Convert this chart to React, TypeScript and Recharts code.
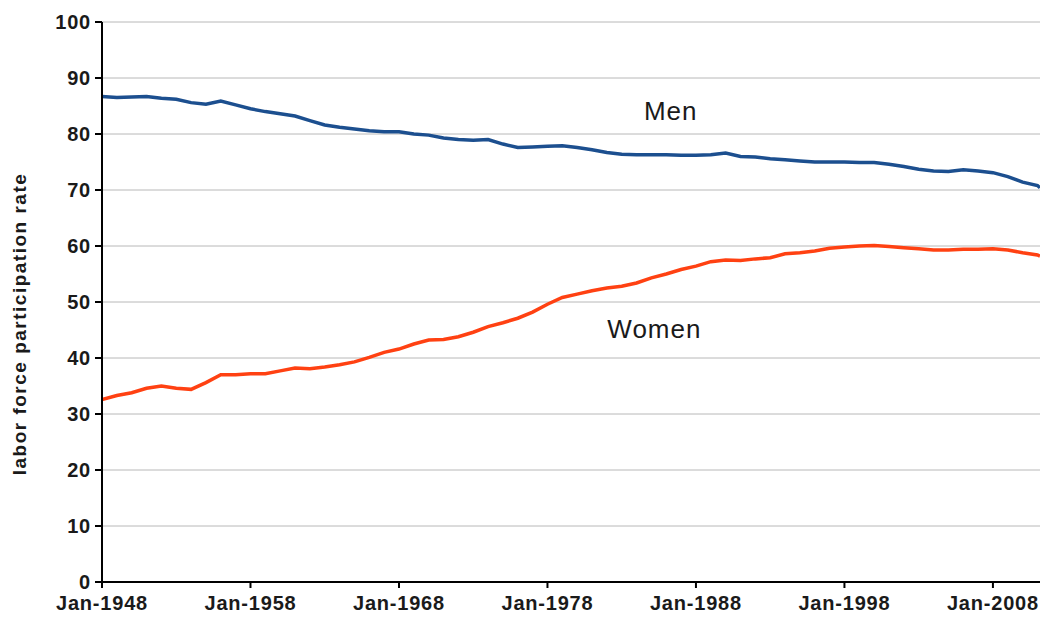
import { CartesianGrid, Line, LineChart, ReferenceDot, XAxis, YAxis } from 'recharts'

// Jan of each year, plus the last observation (early 2011)
const YEARS = [
  1948, 1949, 1950, 1951, 1952, 1953, 1954, 1955, 1956, 1957,
  1958, 1959, 1960, 1961, 1962, 1963, 1964, 1965, 1966, 1967,
  1968, 1969, 1970, 1971, 1972, 1973, 1974, 1975, 1976, 1977,
  1978, 1979, 1980, 1981, 1982, 1983, 1984, 1985, 1986, 1987,
  1988, 1989, 1990, 1991, 1992, 1993, 1994, 1995, 1996, 1997,
  1998, 1999, 2000, 2001, 2002, 2003, 2004, 2005, 2006, 2007,
  2008, 2009, 2010, 2011, 2011.17,
]

const MEN = [
  86.7, 86.5, 86.6, 86.7, 86.4, 86.2, 85.6, 85.3, 85.9, 85.2,
  84.5, 84.0, 83.6, 83.2, 82.4, 81.6, 81.2, 80.9, 80.6, 80.4,
  80.4, 80.0, 79.8, 79.3, 79.0, 78.9, 79.0, 78.2, 77.6, 77.7,
  77.8, 77.9, 77.6, 77.2, 76.7, 76.4, 76.3, 76.3, 76.3, 76.2,
  76.2, 76.3, 76.6, 76.0, 75.9, 75.6, 75.4, 75.2, 75.0, 75.0,
  75.0, 74.9, 74.9, 74.6, 74.2, 73.7, 73.4, 73.3, 73.6, 73.4,
  73.1, 72.4, 71.4, 70.8, 70.4,
]

const WOMEN = [
  32.6, 33.3, 33.8, 34.6, 35.0, 34.6, 34.4, 35.6, 37.0, 37.0,
  37.2, 37.2, 37.7, 38.2, 38.1, 38.4, 38.8, 39.3, 40.1, 41.0,
  41.6, 42.5, 43.2, 43.3, 43.8, 44.6, 45.6, 46.3, 47.1, 48.2,
  49.6, 50.8, 51.4, 52.0, 52.5, 52.8, 53.4, 54.3, 55.0, 55.8,
  56.4, 57.2, 57.5, 57.4, 57.7, 57.9, 58.6, 58.8, 59.1, 59.6,
  59.8, 60.0, 60.1, 59.9, 59.7, 59.5, 59.3, 59.3, 59.4, 59.4,
  59.5, 59.3, 58.8, 58.4, 58.2,
]

const X_TICKS = [1948, 1958, 1968, 1978, 1988, 1998, 2008]
const Y_TICKS = [0, 10, 20, 30, 40, 50, 60, 70, 80, 90, 100]

const data = YEARS.map((t, i) => ({ t, men: MEN[i], women: WOMEN[i] }))

const FONT = 'Liberation Sans, Arial, sans-serif'
const tickStyle = { fontSize: 20, fontWeight: 700, fill: '#1a1a1a', fontFamily: FONT, letterSpacing: 0.8 }
const seriesLabel = { position: 'center' as const, fontSize: 26, fill: '#1a1a1a', fontFamily: FONT, letterSpacing: 1 }

export default function App() {
  return (
    <div style={{ width: 1040, height: 621, background: '#fff' }}>
      <style>{'body{margin:0}'}</style>
      <LineChart width={1040} height={621} data={data} margin={{ top: 22, right: 0, bottom: 0, left: 0 }}>
        <CartesianGrid horizontal vertical={false} stroke="#b8b8b8" strokeWidth={1} />
        <XAxis
          dataKey="t"
          type="number"
          domain={[1948, 2011.17]}
          ticks={X_TICKS}
          tickFormatter={(v: number) => `Jan-${v}`}
          height={39}
          tick={tickStyle}
          tickSize={6}
          tickMargin={8}
          stroke="#000"
          strokeWidth={2}
          allowDataOverflow
        />
        <YAxis
          type="number"
          domain={[0, 100]}
          ticks={Y_TICKS}
          width={102}
          tick={tickStyle}
          tickSize={7}
          tickMargin={4}
          stroke="#000"
          strokeWidth={2}
          label={{
            value: 'labor force participation rate',
            angle: -90,
            position: 'insideLeft',
            offset: 19,
            dy: 22,
            style: { textAnchor: 'middle', fontSize: 19, fontWeight: 700, fill: '#1a1a1a', fontFamily: FONT, letterSpacing: 1.5 },
          }}
        />
        <Line dataKey="men" stroke="#1c4f8f" strokeWidth={3.5} dot={false} isAnimationActive={false} />
        <Line dataKey="women" stroke="#ff4112" strokeWidth={3.5} dot={false} isAnimationActive={false} />
        <ReferenceDot x={1986.3} y={84.2} r={1} fill="none" stroke="none" label={{ value: 'Men', ...seriesLabel }} />
        <ReferenceDot x={1985.2} y={45.2} r={1} fill="none" stroke="none" label={{ value: 'Women', ...seriesLabel }} />
      </LineChart>
    </div>
  )
}
